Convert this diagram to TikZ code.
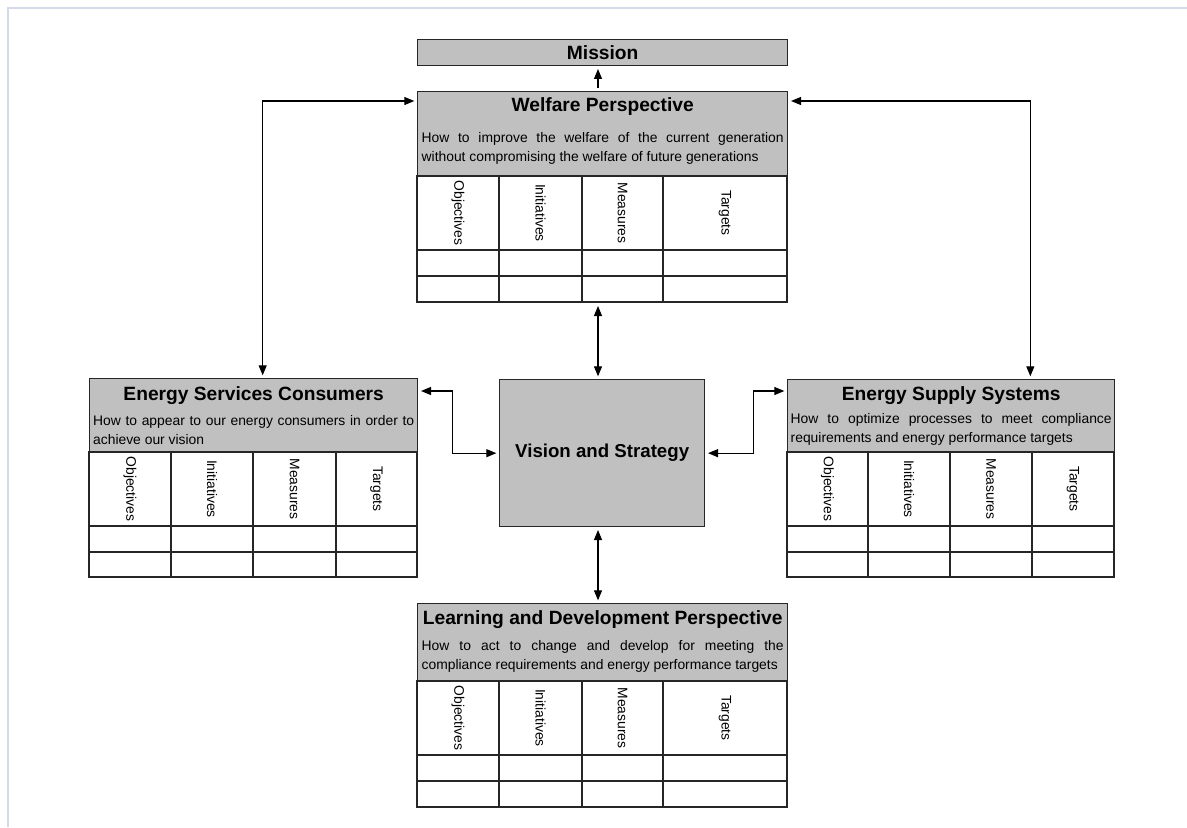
\documentclass[tikz,border=0pt]{standalone}
\usepackage{fontspec}
\setmainfont{Liberation Sans}
\usetikzlibrary{arrows.meta,positioning}
\definecolor{hdrgrey}{HTML}{C0C0C0}
\definecolor{edge}{HTML}{262626}
\definecolor{pageframe}{HTML}{D3DBE9}
\newcommand{\ttlfont}{\fontsize{14.4}{17}\selectfont\bfseries}
\newcommand{\descfont}{\fontsize{10.4}{14.25}\selectfont}
\tikzset{
  panel/.style={draw=edge,line width=1pt,inner sep=0pt,anchor=north west},
  hdr/.style={panel,fill=hdrgrey},
  ttl/.style={font=\ttlfont,inner sep=0pt},
  desc/.style={font=\descfont,align=justify,inner sep=0pt},
  tabline/.style={draw=edge,line width=1pt},
  collbl/.style={rotate=-90,font=\fontsize{10.4}{12}\selectfont,inner sep=0pt},
  conn/.style={line width=0.8pt,shorten <=2pt,shorten >=2pt}
}
\begin{document}
\begin{tikzpicture}[x=0.75pt,y=-0.75pt,>={Triangle[length=7.5pt,width=6pt]}]
  \useasboundingbox (0,0) rectangle (1187,827);
  \draw[pageframe,line width=1.5pt] (7.5,827) -- (7.5,8.5) -- (1187,8.5);

  \node[hdr,minimum width=277.5pt,minimum height=19.5pt,font=\ttlfont] (mission) at (417,39) {Mission};

  % welfare perspective
  \node[panel,minimum width=277.5pt,minimum height=158.25pt] (wel) at (417,91) {};
  \node[hdr,minimum width=277.5pt,minimum height=63.75pt] (welhead) at (wel.north west) {};
  \node[ttl] (welttl) at ([yshift=-11.5pt]welhead.north) {Welfare Perspective};
  \node[desc,text width=271.5pt] (weldesc) at ([yshift=-43pt]welhead.north) {How to improve the welfare of the current generation\linebreak without compromising the welfare of future generations};
  \foreach \xa/\xb/\lbl [count=\i] in {417/499/Objectives,499/582/Initiatives,582/663/Measures,663/787/Targets}{
    \draw[tabline] (\xa,176) rectangle (\xb,250) (\xa,250) rectangle (\xb,276) (\xa,276) rectangle (\xb,302);
    \node[collbl] (wel-\i) at ({(\xa+\xb)/2},213) {\lbl};
  }

  % energy services consumers
  \node[panel,minimum width=246pt,minimum height=149.25pt] (esc) at (89,378) {};
  \node[hdr,minimum width=246pt,minimum height=55.5pt] (eschead) at (esc.north west) {};
  \node[ttl] (escttl) at ([yshift=-13pt]eschead.north) {Energy Services Consumers};
  \node[desc,text width=240.75pt] (escdesc) at ([yshift=-39pt]eschead.north) {How to appear to our energy consumers in order to\linebreak achieve our vision};
  \foreach \xa/\xb/\lbl [count=\i] in {89/171/Objectives,171/253/Initiatives,253/336/Measures,336/417/Targets}{
    \draw[tabline] (\xa,452) rectangle (\xb,526) (\xa,526) rectangle (\xb,552) (\xa,552) rectangle (\xb,577);
    \node[collbl] (esc-\i) at ({(\xa+\xb)/2},489) {\lbl};
  }

  % energy supply systems
  \node[panel,minimum width=245.25pt,minimum height=148.5pt] (ess) at (787,379) {};
  \node[hdr,minimum width=245.25pt,minimum height=54.75pt] (esshead) at (ess.north west) {};
  \node[ttl] (essttl) at ([yshift=-12.5pt]esshead.north) {Energy Supply Systems};
  \node[desc,text width=240.75pt] (essdesc) at ([yshift=-37.5pt]esshead.north) {How to optimize processes to meet compliance\linebreak requirements and energy performance targets};
  \foreach \xa/\xb/\lbl [count=\i] in {787/868/Objectives,868/950/Initiatives,950/1032/Measures,1032/1114/Targets}{
    \draw[tabline] (\xa,452) rectangle (\xb,526) (\xa,526) rectangle (\xb,552) (\xa,552) rectangle (\xb,577);
    \node[collbl] (ess-\i) at ({(\xa+\xb)/2},489) {\lbl};
  }

  % learning and development
  \node[panel,minimum width=277.5pt,minimum height=153pt] (lrn) at (417,603) {};
  \node[hdr,minimum width=277.5pt,minimum height=58.5pt] (lrnhead) at (lrn.north west) {};
  \node[ttl] (lrnttl) at ([yshift=-12.5pt]lrnhead.north) {Learning and Development Perspective};
  \node[desc,text width=271.5pt] (lrndesc) at ([yshift=-40pt]lrnhead.north) {How to act to change and develop for meeting the\linebreak compliance requirements and energy performance targets};
  \foreach \xa/\xb/\lbl [count=\i] in {417/499/Objectives,499/582/Initiatives,582/663/Measures,663/787/Targets}{
    \draw[tabline] (\xa,681) rectangle (\xb,755) (\xa,755) rectangle (\xb,781) (\xa,781) rectangle (\xb,807);
    \node[collbl] (lrn-\i) at ({(\xa+\xb)/2},718) {\lbl};
  }

  \node[hdr,minimum width=153.75pt,minimum height=110.25pt,font=\fontsize{14}{17}\selectfont\bfseries] (vis) at (499,379) {Vision and Strategy};

  % connectors
  \coordinate (axis) at (598,0);
  \draw[conn,->] (wel.north -| axis) -- (mission.south -| axis);
  \draw[conn,<->] (wel.south -| axis) -- (vis.north -| axis);
  \draw[conn,<->] (vis.south -| axis) -- (lrn.north -| axis);
  \draw[conn,<->] ([yshift=-7.5pt]wel.north west) -| ([xshift=6.75pt]esc.north);
  \draw[conn,<->] ([yshift=-7.5pt]wel.north east) -| ([xshift=-63.75pt]ess.north east);
  \draw[conn,<->] ([yshift=-9.75pt]esc.north east) -- ++(25.5pt,0) |- (vis.west);
  \draw[conn,<->] (vis.east) -- ++(36pt,0) |- ([yshift=-9pt]ess.north west);
\end{tikzpicture}
\end{document}
